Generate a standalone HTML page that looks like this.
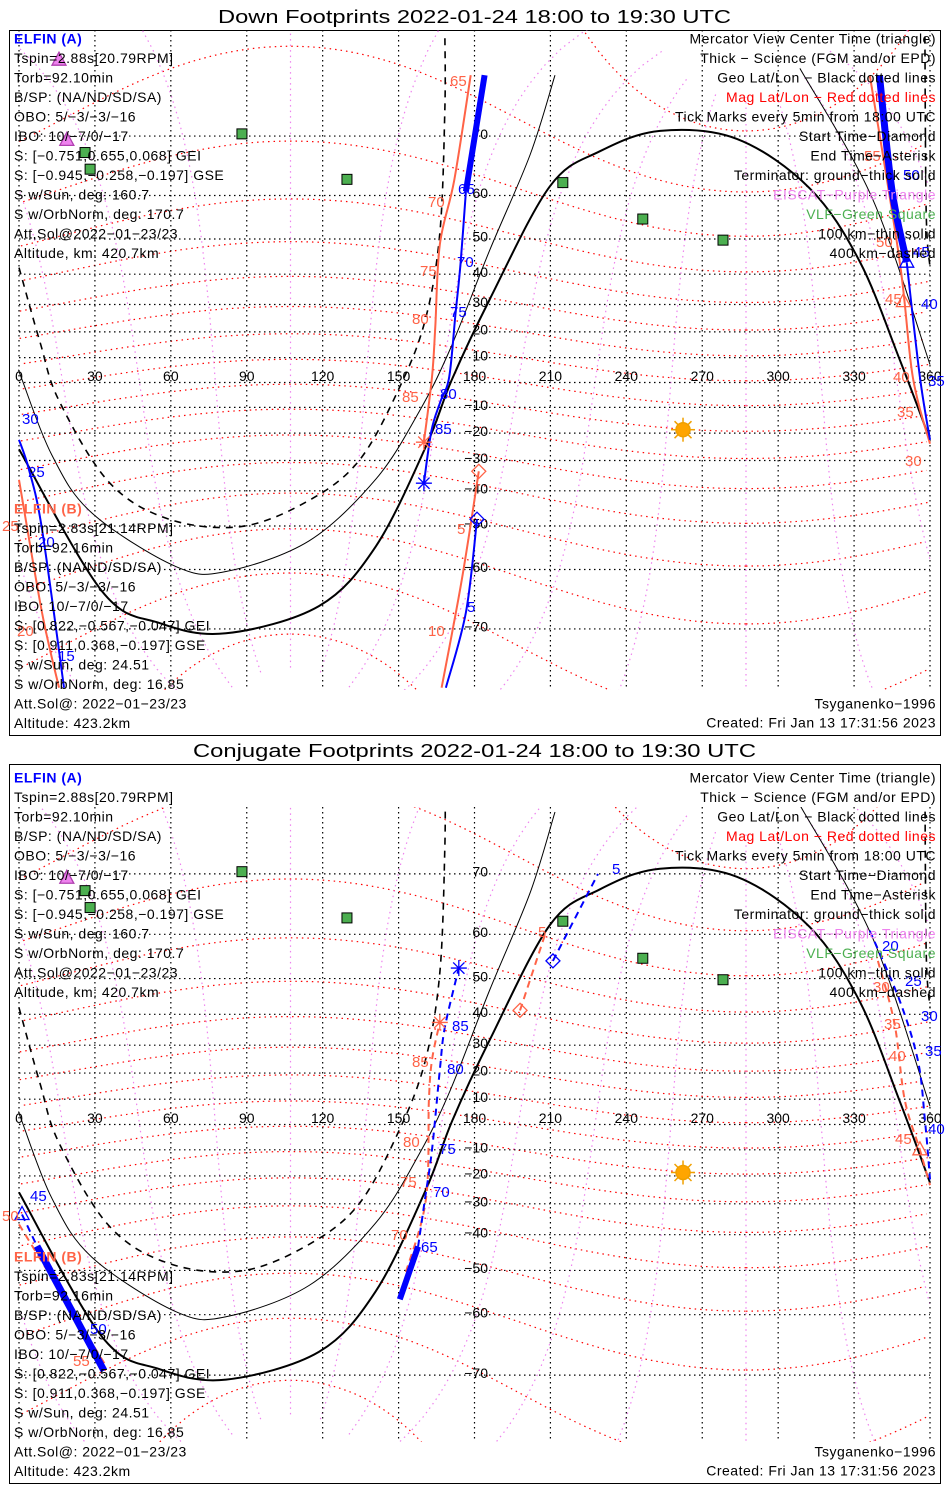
<!DOCTYPE html>
<html><head><meta charset="utf-8"><style>
body{margin:0;background:#fff;}
svg{display:block;font-family:"Liberation Sans",sans-serif;}
</style></head><body>
<svg id="chart" width="950" height="1500" viewBox="0 0 950 1500" xmlns="http://www.w3.org/2000/svg">
<rect x="0" y="0" width="950" height="1500" fill="#fff"/>
<defs>
<clipPath id="clip0"><rect x="10" y="30" width="930" height="660"/></clipPath>
<clipPath id="clip1"><rect x="10" y="807" width="930" height="635"/></clipPath>
</defs>
<text x="218" y="23" font-size="18" textLength="513" lengthAdjust="spacingAndGlyphs">Down Footprints 2022-01-24 18:00 to 19:30 UTC</text>
<text x="193" y="757" font-size="18" textLength="563" lengthAdjust="spacingAndGlyphs">Conjugate Footprints 2022-01-24 18:00 to 19:30 UTC</text>
<rect x="9.5" y="30.5" width="931" height="705" fill="none" stroke="#000"/>
<rect x="9.5" y="764.5" width="931" height="719" fill="none" stroke="#000"/>
<g id="p0grid" clip-path="url(#clip0)"></g>
<g id="p1grid" clip-path="url(#clip1)"></g>
<g id="p0marks" clip-path="url(#clip0)"></g>
<g id="p1marks" clip-path="url(#clip1)"></g>
<g id="labels" font-size="15"></g>
<g id="texts" font-size="14" letter-spacing="0.5"></g>
</svg>
<script>
// ---- data ----
const lonTicks=[0,30,60,90,120,150,180,210,240,270,300,330,360];
const latTicks=[-70,-60,-50,-40,-30,-20,-10,0,10,20,30,40,50,60,70];
const termLon=[0,32.8,55.7,81.8,118.5,141,160.8,171,186.1,209.8,229.6,253.3,283.7,312.5,332.3,348.1,360];
const termLat=[-26,-64.1,-69.2,-70.6,-66.6,-55,-25,1,31.9,61.8,67.8,70.7,69.6,61.4,43.7,9,-22.5];
const thinLonA=[0,1.2,13,28.8,62,81.8,114.6,141,158,170.3,186,202,211.8];
const thinLatA=[5,1.2,-28.1,-46.5,-59.4,-60.4,-53.7,-36.3,-11.9,13.2,47,67.3,76.9];
const thinLonB=[308.6,337.4,360];
const thinLatB=[77.5,59.2,7.2];
const dashLonA=[0,8.3,15.8,35.6,59.3,88.1,114.6,134.3,150,160.4,166.3,168.3,168.3];
const dashLatA=[42,16.1,-7.3,-37.3,-48.2,-50.1,-42.9,-30.1,-2.8,24,51.4,73.6,80];
const dashLonB=[358,358.5,360];
const dashLatB=[80,56.3,42];
const vlfLon=[88.1,26.1,28.1,129.6,214.9,246.5,278.2];
const vlfLat=[70.3,67.6,64.9,63.1,62.5,54.9,49.7];
const eiscatLon=[15.8,18.9];
const eiscatLat=[78.2,69.4];
const sunLon=262.4, sunLat=-18.7;
// Down footprints tracks (lon/lat)
const dA1Lon=[181,176.6,168.7], dA1Lat=[-48.2,-67.6,-76.7];
const dA2Lon=[0,4,9.1,17.8], dA2Lat=[-22.5,-33.3,-50.8,-76.7];
const dA3Lon=[360,356,350.8], dA3Lat=[-22.5,2.2,43.6];
const dA3tLon=[350.8,345,340], dA3tLat=[43.6,61,76.9];
const dA4tLon=[184,176.6], dA4tLat=[76.9,60.8];
const dA4Lon=[176.6,174.5,172.5,170,166.5,163,160], dA4Lat=[60.8,43.4,26.7,2.2,-7.8,-19,-37.6];
const dB1Lon=[181.7,175,167], dB1Lat=[-33.7,-62,-76.7];
const dB2Lon=[0,9.1,15.8], dB2Lat=[-36.5,-67.6,-76.7];
const dB3Lon=[360,353.2,348,336.2], dB3Lat=[-24,2.2,44,76.9];
const dB4Lon=[178.5,172,166.3,164.5,163.2,160], dB4Lat=[76.9,63,48.5,22,2.2,-23.4];
// Conjugate footprints tracks
const cA1Lon=[211,228.8], cA1Lat=[54.3,70];
const cA2Lon=[336.2,348,355.2,358,360], cA2Lat=[60.7,44.1,24.6,1.8,-21.3];
const cA3Lon=[1.2,7.1], cA3Lat=[-33.6,-43.4];
const cA3tLon=[7.1,33.6], cA3tLat=[-43.4,-69.4];
const cA4tLon=[150.5,157.7], cA4tLat=[-56.8,-43.5];
const cA4Lon=[157.7,160.4,163.2,166.3,168.3,173.8], cA4Lat=[-43.5,-28.5,-10,21.1,36,52.6];
const cB1Lon=[198,207.8], cB1Lat=[41.2,59.8];
const cB2Lon=[339.4,346,350,356,360], cB2Lat=[54.3,37,9.8,-10,-23.4];
const cB3Lon=[0,34], cB3Lat=[-36.8,-68.5];
const cB4Lon=[152.9,160.8,162,163.2,166.3], cB4Lat=[-50.4,-28.5,9.7,24.8,37.5];

const NS="http://www.w3.org/2000/svg";
const panels=[{y0:382.5,k:142,top:30,bot:690},{y0:1124.5,k:144.4,top:807,bot:1442}];
const BLUE="#0000ff", ORG="#ff6347";
function X(lon){return 19+lon*911/360;}
function Y(p,lat){return p.y0-p.k*Math.log(Math.tan(Math.PI/4+lat*Math.PI/360));}
function mk(tag,parent,attrs){const e=document.createElementNS(NS,tag);for(const a in attrs)e.setAttribute(a,attrs[a]);parent.appendChild(e);return e;}
function pathD(p,lons,lats,smooth){
  const P=lons.map((l,i)=>[X(l),Y(p,lats[i])]);
  if(!smooth||P.length<3){return P.map((q,i)=>(i?"L":"M")+q[0].toFixed(1)+","+q[1].toFixed(1)).join("");}
  let d="M"+P[0][0].toFixed(1)+","+P[0][1].toFixed(1);
  for(let i=0;i<P.length-1;i++){
    const p0=P[Math.max(0,i-1)],p1=P[i],p2=P[i+1],p3=P[Math.min(P.length-1,i+2)];
    const c1=[p1[0]+(p2[0]-p0[0])/6,p1[1]+(p2[1]-p0[1])/6];
    const c2=[p2[0]-(p3[0]-p1[0])/6,p2[1]-(p3[1]-p1[1])/6];
    d+="C"+c1.map(v=>v.toFixed(1)).join(",")+" "+c2.map(v=>v.toFixed(1)).join(",")+" "+p2[0].toFixed(1)+","+p2[1].toFixed(1);
  }
  return d;
}
function line(p,g,lons,lats,stroke,w,dash,name,smooth){
  const e=mk("path",g,{d:pathD(p,lons,lats,smooth),fill:"none",stroke:stroke,"stroke-width":w});
  if(dash)e.setAttribute("stroke-dasharray",dash);
  
  
  return e;
}
// dipole mag -> geo
const pLat=80.7*Math.PI/180, pLon=287.3*Math.PI/180;
function magToGeo(m,ph){
  m*=Math.PI/180;ph*=Math.PI/180;
  const x=Math.cos(m)*Math.cos(ph),y=Math.cos(m)*Math.sin(ph),z=Math.sin(m);
  const th=Math.PI/2-pLat;
  const x1=x*Math.cos(th)+z*Math.sin(th), z1=-x*Math.sin(th)+z*Math.cos(th);
  const x2=x1*Math.cos(pLon)-y*Math.sin(pLon), y2=x1*Math.sin(pLon)+y*Math.cos(pLon);
  let lon=Math.atan2(y2,x2)*180/Math.PI; if(lon<0)lon+=360;
  return [lon,Math.asin(z1)*180/Math.PI];
}
function magPolyline(p,g,pts,stroke,name){
  let d="",prev=null;
  pts.forEach(q=>{
    if(Math.abs(q[1])>84){prev=null;return;}
    const x=X(q[0]),y=Y(p,q[1]);
    if(prev===null||Math.abs(q[0]-prev)>180)d+="M";else d+="L";
    d+=x.toFixed(1)+","+y.toFixed(1);prev=q[0];
  });
  const e=mk("path",g,{d:d,fill:"none",stroke:stroke,"stroke-width":1.2,"stroke-dasharray":"1.5,4"});
  
  
}
function asterisk(g,x,y,c,name){
  const grp=mk("g",g,{stroke:c,"stroke-width":1.3});
  
  
  for(let a=0;a<4;a++){const t=a*Math.PI/4;mk("line",grp,{x1:x-8*Math.cos(t),y1:y-8*Math.sin(t),x2:x+8*Math.cos(t),y2:y+8*Math.sin(t)});}
}
function diamond(g,x,y,c,name){
  const e=mk("polygon",g,{points:`${x},${y-7} ${x+7},${y} ${x},${y+7} ${x-7},${y}`,fill:"none",stroke:c,"stroke-width":1.3});
  
  
}
function triangle(g,x,y,c,fill,name){
  const e=mk("polygon",g,{points:`${x},${y-8} ${x+7},${y+5} ${x-7},${y+5}`,fill:fill,stroke:c,"stroke-width":1.3});
  
  
}

panels.forEach((p,pi)=>{
  const gg=document.getElementById("p"+pi+"grid");
  const gm=document.getElementById("p"+pi+"marks");
  for(let m=-80;m<=80;m+=10){const pts=[];for(let ph=0;ph<=360;ph+=2)pts.push(magToGeo(m,ph));magPolyline(p,gg,pts,"#ff0000","mag-lat-line");}
  for(let ph=0;ph<360;ph+=30){const pts=[];for(let m=-84;m<=84;m+=2)pts.push(magToGeo(m,ph));magPolyline(p,gg,pts,"#ee82ee","mag-lon-line");}
  lonTicks.forEach(l=>{
    const e=mk("line",gg,{x1:X(l),x2:X(l),y1:p.top,y2:p.bot,stroke:"#000","stroke-width":1.2,"stroke-dasharray":"1.5,3.5"});
    
    
  });
  latTicks.forEach(l=>{
    const y=Y(p,l);
    const e=mk("line",gg,{x1:19,x2:X(360),y1:y,y2:y,stroke:"#000","stroke-width":1.2,"stroke-dasharray":"1.5,3.5"});
    
    
    if(l!==0){
      const t=mk("text",gg,{x:488,y:y-1,"font-size":14,"text-anchor":"end","dominant-baseline":"middle",fill:"#000"});
      t.textContent=String(l).replace("-","\u2212");
      
      
    }
  });
  lonTicks.forEach(l=>{
    const t=mk("text",gg,{x:X(l),y:Y(p,0)-5,"font-size":14,"text-anchor":"middle","dominant-baseline":"middle",fill:"#000"});
    t.textContent=String(l);
    
    
  });
  line(p,gm,termLon,termLat,"#000",2,null,"terminator-ground",true);
  line(p,gm,thinLonA,thinLatA,"#000",1,null,"terminator-100km",true);
  line(p,gm,thinLonB,thinLatB,"#000",1,null,"terminator-100km",true);
  line(p,gm,dashLonA,dashLatA,"#000",1.6,"7,6","terminator-400km",true);
  line(p,gm,dashLonB,dashLatB,"#000",1.6,"7,6","terminator-400km",true);
  vlfLon.forEach((l,i)=>{
    const e=mk("rect",gm,{x:X(l)-5,y:Y(p,vlfLat[i])-5,width:10,height:10,fill:"#4caf50",stroke:"#000","stroke-width":1});
    
    
  });
  eiscatLon.forEach((l,i)=>{
    triangle(gm,X(l),Y(p,eiscatLat[i]),"#b040b0","#ee82ee","eiscat-station");
  });
  const sx=X(sunLon), sy=Y(p,sunLat);
  const sg=mk("g",gm,{stroke:"#f0a000","stroke-width":1.5});
  
  
  for(let a=0;a<8;a++){const t=a*Math.PI/4;mk("line",sg,{x1:sx,y1:sy,x2:sx+12*Math.cos(t),y2:sy+12*Math.sin(t)});}
  mk("circle",sg,{cx:sx,cy:sy,r:7,fill:"#ffa500"});
});

(function(){
  const p=panels[0], g=document.getElementById("p0marks");
  line(p,g,dB1Lon,dB1Lat,ORG,2,null,"elfin-b-track",true);
  line(p,g,dB2Lon,dB2Lat,ORG,2,null,"elfin-b-track",true);
  line(p,g,dB3Lon,dB3Lat,ORG,2,null,"elfin-b-track",true);
  line(p,g,dB4Lon,dB4Lat,ORG,2,null,"elfin-b-track",true);
  line(p,g,dA1Lon,dA1Lat,BLUE,2,null,"elfin-a-track",true);
  line(p,g,dA2Lon,dA2Lat,BLUE,2,null,"elfin-a-track",true);
  line(p,g,dA3Lon,dA3Lat,BLUE,2,null,"elfin-a-track",true);
  line(p,g,dA3tLon,dA3tLat,BLUE,7,null,"elfin-a-science",true);
  line(p,g,dA4tLon,dA4tLat,BLUE,6,null,"elfin-a-science",true);
  line(p,g,dA4Lon,dA4Lat,BLUE,2,null,"elfin-a-track",true);
  diamond(g,X(dA1Lon[0]),Y(p,dA1Lat[0]),BLUE,"elfin-a-start");
  diamond(g,X(dB1Lon[0]),Y(p,dB1Lat[0]),ORG,"elfin-b-start");
  asterisk(g,X(dA4Lon[dA4Lon.length-1]),Y(p,dA4Lat[dA4Lat.length-1]),BLUE,"elfin-a-end");
  asterisk(g,X(dB4Lon[dB4Lon.length-1]),Y(p,dB4Lat[dB4Lat.length-1]),ORG,"elfin-b-end");
  triangle(g,X(dA3Lon[2]),Y(p,dA3Lat[2]),BLUE,"none","elfin-a-center");
  triangle(g,X(349.5),Y(p,31),ORG,"none","elfin-b-center");
})();
(function(){
  const p=panels[1], g=document.getElementById("p1marks");
  line(p,g,cB1Lon,cB1Lat,ORG,2,"7,5","elfin-b-track",true);
  line(p,g,cB2Lon,cB2Lat,ORG,2,"7,5","elfin-b-track",true);
  line(p,g,cB3Lon,cB3Lat,ORG,2,"7,5","elfin-b-track",true);
  line(p,g,cB4Lon,cB4Lat,ORG,2,"7,5","elfin-b-track",true);
  line(p,g,cA1Lon,cA1Lat,BLUE,2,"7,5","elfin-a-track",true);
  line(p,g,cA2Lon,cA2Lat,BLUE,2,"7,5","elfin-a-track",true);
  line(p,g,cA3Lon,cA3Lat,BLUE,2,"7,5","elfin-a-track",true);
  line(p,g,cA3tLon,cA3tLat,BLUE,7,null,"elfin-a-science",true);
  line(p,g,cA4tLon,cA4tLat,BLUE,6,null,"elfin-a-science",true);
  line(p,g,cA4Lon,cA4Lat,BLUE,2,"7,5","elfin-a-track",true);
  diamond(g,X(cA1Lon[0]),Y(p,cA1Lat[0]),BLUE,"elfin-a-start");
  diamond(g,X(cB1Lon[0]),Y(p,cB1Lat[0]),ORG,"elfin-b-start");
  asterisk(g,X(cA4Lon[cA4Lon.length-1]),Y(p,cA4Lat[cA4Lat.length-1]),BLUE,"elfin-a-end");
  asterisk(g,X(cB4Lon[cB4Lon.length-1]),Y(p,cB4Lat[cB4Lat.length-1]),ORG,"elfin-b-end");
  triangle(g,X(cA3Lon[0]),Y(p,cA3Lat[0]),BLUE,"none","elfin-a-center");
  triangle(g,X(cB2Lon[3]),Y(p,cB2Lat[3]),ORG,"none","elfin-b-center");
})();

const tickLabels=[
 [458,190,"65",BLUE],[457,263,"70",BLUE],[450,313,"75",BLUE],[440,395,"80",BLUE],[435,430,"85",BLUE],
 [22,420,"30",BLUE],[28,473,"25",BLUE],[38,543,"20",BLUE],[58,657,"15",BLUE],[467,608,"5",BLUE],
 [928,382,"35",BLUE],[921,305,"40",BLUE],[913,253,"45",BLUE],[903,176,"50",BLUE],
 [450,82,"65",ORG],[428,203,"70",ORG],[420,272,"75",ORG],[412,320,"80",ORG],[402,398,"85",ORG],
 [457,530,"5",ORG],[428,632,"10",ORG],[17,632,"20",ORG],[2,527,"25",ORG],
 [905,462,"30",ORG],[897,413,"35",ORG],[893,378,"40",ORG],[885,300,"45",ORG],[876,243,"50",ORG],[864,157,"55",ORG],
 [421,1248,"65",BLUE],[433,1193,"70",BLUE],[439,1150,"75",BLUE],[447,1070,"80",BLUE],[452,1027,"85",BLUE],
 [612,870,"5",BLUE],[882,947,"20",BLUE],[905,982,"25",BLUE],[921,1017,"30",BLUE],[925,1052,"35",BLUE],[928,1130,"40",BLUE],
 [30,1197,"45",BLUE],[90,1330,"50",BLUE],
 [391,1236,"70",ORG],[400,1183,"75",ORG],[403,1143,"80",ORG],[412,1063,"85",ORG],[538,933,"5",ORG],
 [873,988,"30",ORG],[884,1025,"35",ORG],[889,1057,"40",ORG],[895,1140,"45",ORG],[2,1217,"50",ORG],[73,1362,"55",ORG]
];
const lg=document.getElementById("labels");
tickLabels.forEach(t=>{
  const e=mk("text",lg,{x:t[0],y:t[1],"dominant-baseline":"middle",fill:t[3]});
  e.textContent=t[2];
  
  
});

const aLines=["Tspin=2.88s[20.79RPM]","Torb=92.10min","B/SP: (NA/ND/SD/SA)","OBO: 5/-3/-3/-16","IBO: 10/-7/0/-17","S: [-0.751,0.655,0.068] GEI","S: [-0.945,-0.258,-0.197] GSE","S w/Sun, deg: 160.7","S w/OrbNorm, deg: 170.7","Att.Sol@2022-01-23/23","Altitude, km: 420.7km"];
const bLines=["Tspin=2.83s[21.14RPM]","Torb=92.16min","B/SP: (NA/ND/SD/SA)","OBO: 5/-3/-3/-16","IBO: 10/-7/0/-17","S: [0.822,-0.567,-0.047] GEI","S: [0.911,0.368,-0.197] GSE","S w/Sun, deg: 24.51","S w/OrbNorm, deg: 16.85","Att.Sol@: 2022-01-23/23","Altitude: 423.2km"];
const rLines=[["Mercator View Center Time (triangle)","#000"],["Thick - Science (FGM and/or EPD)","#000"],["Geo Lat/Lon - Black dotted lines","#000"],["Mag Lat/Lon - Red dotted lines","#ff0000"],["Tick Marks every 5min from 18:00 UTC","#000"],["Start Time-Diamond","#000"],["End Time-Asterisk","#000"],["Terminator: ground-thick solid","#000"],["EISCAT-Purple Triangle","#ee82ee"],["VLF-Green Square","#4caf50"],["100 km-thin solid","#000"],["400 km-dashed","#000"]];
const tg=document.getElementById("texts");
function txt(x,y,s,c,anchor,name,bold){
  const e=mk("text",tg,{x:x,y:y,fill:c,"text-anchor":anchor,"dominant-baseline":"middle"});
  if(bold)e.setAttribute("font-weight","bold");
  e.textContent=s.replace(/-/g,"\u2212");
  
  
}
[[40,510],[779,1258]].forEach(o=>{
  txt(14,o[0],"ELFIN (A)",BLUE,"start","elfin-a-header",true);
  aLines.forEach((s,i)=>txt(14,o[0]+19.5*(i+1),s,"#000","start","elfin-a-info"));
  txt(14,o[1],"ELFIN (B)",ORG,"start","elfin-b-header",true);
  bLines.forEach((s,i)=>txt(14,o[1]+19.5*(i+1),s,"#000","start","elfin-b-info"));
  rLines.forEach((s,i)=>txt(936,o[0]+19.5*i,s[0],s[1],"end","legend-line"));
});
txt(936,705,"Tsyganenko-1996","#000","end","model-label");
txt(936,724,"Created: Fri Jan 13 17:31:56 2023","#000","end","created-timestamp");
txt(936,1453,"Tsyganenko-1996","#000","end","model-label");
txt(936,1472,"Created: Fri Jan 13 17:31:56 2023","#000","end","created-timestamp");
</script>
</body></html>
